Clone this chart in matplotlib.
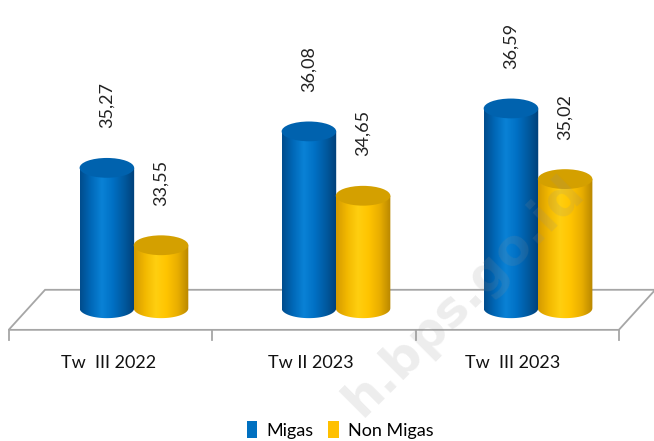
import matplotlib.pyplot as plt
import numpy as np
from matplotlib.patches import Ellipse, Polygon, PathPatch, Patch
from matplotlib.path import Path
from matplotlib.colors import LinearSegmentedColormap

# data
categories = ['Tw  III 2022', 'Tw II 2023', 'Tw  III 2023']
migas = [35.27, 36.08, 36.59]
non_migas = [33.55, 34.65, 35.02]
labels_migas = ['35,27', '36,08', '36,59']
labels_non = ['33,55', '34,65', '35,02']

base = 32.15
bar_w = 0.27
ell_h = 0.44   # full height of the ellipse in value units

blue_cmap = LinearSegmentedColormap.from_list(
    'b', ['#004C8C', '#0068B8', '#0A82D6', '#0070C4', '#005AA0', '#003F78'])
yellow_cmap = LinearSegmentedColormap.from_list(
    'y', ['#D49A00', '#F2B800', '#FFCF10', '#FFC400', '#E8AE00', '#B88600'])

fig = plt.figure(figsize=(6.54, 4.41), dpi=100)
ax = fig.add_axes([0, 0, 1, 1])
ax.set_xlim(-0.663, 2.574)
ax.set_ylim(29.2, 39.0)
ax.set_axis_off()

# floor
front_y, back_y = 31.67, 32.56
dx = 0.18
front_x0, front_x1 = -0.62, 2.40
floor = Polygon([(front_x0, front_y), (front_x1, front_y),
                 (front_x1 + dx, back_y), (front_x0 + dx, back_y)],
                closed=True, facecolor='white', edgecolor='#A6A6A6', lw=1.3, zorder=1)
ax.add_patch(floor)
for i in range(4):
    ax.plot([front_x0 + i * 1.007, front_x0 + i * 1.007], [front_y, front_y - 0.22],
            color='#A6A6A6', lw=1.3, zorder=1)


def cylinder(xc, top, cmap, top_color, z):
    x0, x1 = xc - bar_w / 2, xc + bar_w / 2
    t = np.linspace(np.pi, 2 * np.pi, 40)
    bottom = [(xc + bar_w / 2 * np.cos(a), base + ell_h / 2 * np.sin(a)) for a in t]
    verts = [(x0, top)] + bottom + [(x1, top), (x0, top)]
    path = Path(verts)
    clip = PathPatch(path, facecolor='none', edgecolor='none', transform=ax.transData)
    ax.add_patch(clip)
    grad = np.linspace(0, 1, 256).reshape(1, -1)
    im = ax.imshow(grad, cmap=cmap, aspect='auto', extent=[x0, x1, base - ell_h, top],
                   zorder=z, interpolation='bicubic')
    im.set_clip_path(clip)
    ax.add_patch(Ellipse((xc, top), bar_w, ell_h, facecolor=top_color,
                         edgecolor='none', zorder=z + 0.1))


for i in range(len(categories)):
    cylinder(i - 0.134, migas[i], blue_cmap, '#0062AE', 2)
    cylinder(i + 0.134, non_migas[i], yellow_cmap, '#D4A000', 3)
    ax.text(i - 0.134, migas[i] + 0.88, labels_migas[i], rotation=90, ha='center',
            va='bottom', fontsize=13, family='Lato', color='#222222')
    ax.text(i + 0.134, non_migas[i] + 0.88, labels_non[i], rotation=90, ha='center',
            va='bottom', fontsize=13, family='Lato', color='#222222')
    ax.text(i - 0.125, 30.93, categories[i], ha='center', va='center',
            fontsize=13, family='Lato', color='#111111')

# watermark
fig.text(0.71, 0.33, 'h.bps.go.id', rotation=45, ha='center', va='center',
         fontsize=36, fontweight='bold', family='DejaVu Sans', color='#909090',
         alpha=0.16, zorder=10)

handles = [Patch(facecolor='#0070C0', label='Migas'),
           Patch(facecolor='#FFC000', label='Non Migas')]
fig.legend(handles=handles, loc='center', bbox_to_anchor=(0.52, 1 - 430 / 441),
           ncol=2, frameon=False, handlelength=0.6, handleheight=1.1,
           handletextpad=0.5, columnspacing=0.8, prop={'family': 'Lato', 'size': 13})

fig.savefig('out.png', dpi=100)
